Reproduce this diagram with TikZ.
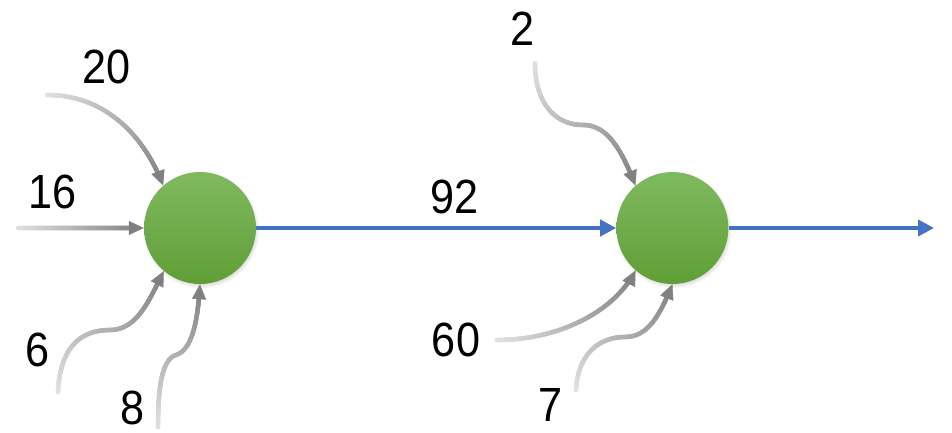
\documentclass[tikz,border=0pt]{standalone}
\usepackage{fontspec}
\setmainfont{Liberation Sans}[FakeStretch=0.9]
\usepackage{xcolor}
\usetikzlibrary{arrows.meta,positioning,decorations.markings,shadows}
\definecolor{hubtop}{HTML}{80BA60}
\definecolor{hubbot}{HTML}{5F9E36}
\definecolor{flowblue}{HTML}{4472C4}
\tikzset{
	hub/.style={circle, minimum size=112pt, inner sep=0pt, top color=hubtop, bottom color=hubbot,
		circular drop shadow={shadow xshift=1pt, shadow yshift=-2pt, shadow scale=1.04, opacity=0.45}},
	flow/.style={draw=flowblue, line width=4.5pt, -{Triangle[length=16pt, width=16pt]}},
	feed/.style={
		postaction={decorate, decoration={markings,
			mark=between positions 0 and -13pt step 0.6pt with {%
				\pgfmathtruncatemacro\tone{12+38*\pgfkeysvalueof{/pgf/decoration/mark info/distance from start}/\pgfdecoratedpathlength}%
				\fill[black!\tone] (0,0) circle (2.3pt);}}},
		postaction={decorate, decoration={markings,
			mark=at position 1 with {\arrow[black!50]{Triangle[length=15pt, width=14pt]}}}}},
	num/.style={font=\fontsize{48}{52}\selectfont, inner sep=0pt}
}
\begin{document}
\begin{tikzpicture}[x=1pt, y=1pt]
	\useasboundingbox (0,0) rectangle (952,433);
	\node[hub] (n1) at (200,205) {};
	\node[hub, right=360pt of n1] (n2) {};
	\coordinate (out) at (934,205);
	% labels
	\node[num] (l20) at (107,366) {20};
	\node[num] (l16) at (53,241) {16};
	\node[num] (l6) at (38,83) {6};
	\node[num] (l8) at (133,25) {8};
	\node[num] (l2) at (523,404) {2};
	\node[num] (l60) at (456,93) {60};
	\node[num] (l7) at (551,28) {7};
	% free ends of the inflows
	\coordinate (s20) at (47,338);
	\coordinate (s16) at (18,205);
	\coordinate (s6) at (58,41);
	\coordinate (s8) at (158,6);
	\coordinate (s2) at (535,370);
	\coordinate (s60) at (497,93);
	\coordinate (s7) at (576,43);
	% inflows
	\path[feed] (s20) .. controls (112,338) and (148,288) .. (n1.131);
	\path[feed] (s16) -- (n1.west);
	\path[feed] (s6) .. controls (60,85) and (80,103) .. (110,103) .. controls (138,103) and (150,135) .. (n1.230);
	\path[feed] (s8) .. controls (158,50) and (163,74) .. (176,78) .. controls (194,84) and (198,118) .. (n1.south);
	\path[feed] (s2) .. controls (535,330) and (555,308) .. (583,308) .. controls (608,308) and (622,282) .. (n2.131);
	\path[feed] (s60) .. controls (560,93) and (615,122) .. (n2.229);
	\path[feed] (s7) .. controls (578,80) and (600,96) .. (625,96) .. controls (648,96) and (660,118) .. (n2.south);
	% main stream
	\draw[flow] (n1) -- node[num, pos=0.55, above=12pt] (l92) {92} (n2);
	\draw[flow] (n2) -- (out);
\end{tikzpicture}
\end{document}
